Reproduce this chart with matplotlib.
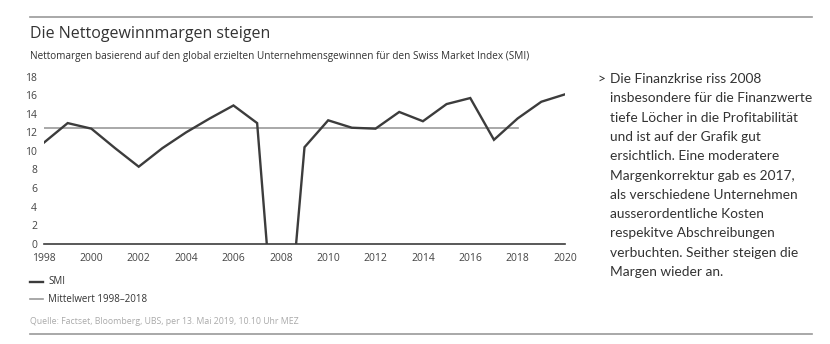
import matplotlib
matplotlib.use("Agg")
import matplotlib.pyplot as plt
from matplotlib.lines import Line2D

plt.rcParams['font.family'] = ['Open Sans', 'DejaVu Sans']

years = list(range(1998, 2021))
smi = [10.9, 13.0, 12.4, 10.3, 8.3, 10.3, 12.0, 13.5, 14.9, 13.0, -19.0, 10.4,
       13.3, 12.5, 12.4, 14.2, 13.2, 15.05, 15.7, 11.2, 13.5, 15.3, 16.1]
mean_years = [1998, 2018]
mean_value = 12.5
yticks = list(range(0, 19, 2))
xticks = list(range(1998, 2021, 2))

title = "Die Nettogewinnmargen steigen"
subtitle = "Nettomargen basierend auf den global erzielten Unternehmensgewinnen für den Swiss Market Index (SMI)"
legend_labels = ["SMI", "Mittelwert 1998–2018"]
source = "Quelle: Factset, Bloomberg, UBS, per 13. Mai 2019, 10.10 Uhr MEZ"
side_text = ["Die Finanzkrise riss 2008",
             "insbesondere für die Finanzwerte",
             "tiefe Löcher in die Profitabilität",
             "und ist auf der Grafik gut",
             "ersichtlich. Eine moderatere",
             "Margenkorrektur gab es 2017,",
             "als verschiedene Unternehmen",
             "ausserordentliche Kosten",
             "respekitve Abschreibungen",
             "verbuchten. Seither steigen die",
             "Margen wieder an."]

W, H = 830, 344
fig = plt.figure(figsize=(W / 100, H / 100), dpi=100)
fig.patch.set_facecolor('white')

dark = '#3c3c3c'
mid = '#9a9a9a'
txt = '#333333'

ax = fig.add_axes([44 / W, 1 - 243.7 / H, (565 - 44) / W, (243.7 - 76.7) / H])
ax.plot(years, smi, color=dark, lw=1.7, solid_joinstyle='miter', zorder=3)
ax.plot(mean_years, [mean_value, mean_value], color=mid, lw=1.2, zorder=2)
ax.set_xlim(1998, 2020)
ax.set_ylim(0, 18)
ax.set_yticks(yticks)
ax.set_xticks(xticks)
for s in ['top', 'right', 'left']:
    ax.spines[s].set_visible(False)
ax.spines['bottom'].set_color(dark)
ax.spines['bottom'].set_linewidth(1.2)
ax.tick_params(axis='both', length=0, labelsize=7.5, colors='#444444')
ax.tick_params(axis='y', pad=5)
ax.tick_params(axis='x', pad=7)
ax.set_facecolor('none')

# rules
fig.add_artist(Line2D([30 / W, 812 / W], [1 - 17 / H, 1 - 17 / H], color='#999999', lw=1.2))
fig.add_artist(Line2D([30 / W, 812 / W], [1 - 334 / H, 1 - 334 / H], color='#999999', lw=1.2))

fig.text(30 / W, 1 - 37.5 / H, title, fontsize=11.5, color=txt, va='baseline', ha='left')
fig.text(30 / W, 1 - 59 / H, subtitle, fontsize=7.2, color=txt, va='baseline', ha='left')

# legend
fig.add_artist(Line2D([30 / W, 43 / W], [1 - 282 / H, 1 - 282 / H], color=dark, lw=1.7))
fig.add_artist(Line2D([30 / W, 43 / W], [1 - 299 / H, 1 - 299 / H], color=mid, lw=1.2))
fig.text(48 / W, 1 - 282 / H, legend_labels[0], fontsize=7, color=txt, va='center', ha='left')
fig.text(48 / W, 1 - 299 / H, legend_labels[1], fontsize=7, color=txt, va='center', ha='left')

fig.text(30 / W, 1 - 324.5 / H, source, fontsize=6.3, color='#aaaaaa', va='baseline', ha='left')

# side text
fig.text(597 / W, 1 - 83 / H, ">", fontsize=9.9, color=txt, va='baseline', ha='left',
         family=['Lato', 'DejaVu Sans'])
y0 = 83
step = 19.3
for i, line in enumerate(side_text):
    fig.text(610 / W, 1 - (y0 + i * step) / H, line, fontsize=9.9, color=txt,
             va='baseline', ha='left', family=['Lato', 'DejaVu Sans'])

fig.savefig('out.png', dpi=100, facecolor='white')
